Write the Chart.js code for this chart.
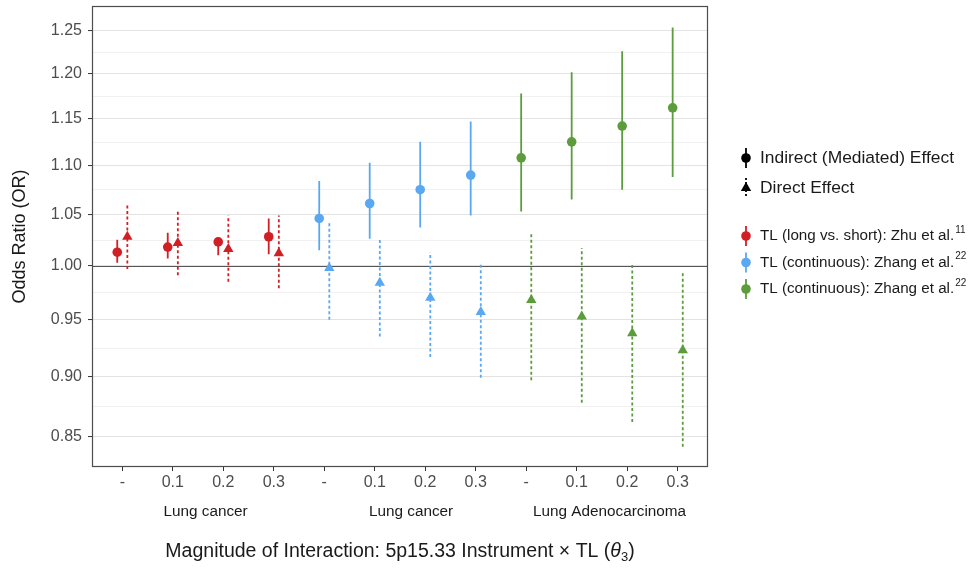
<!DOCTYPE html>
<html>
<head>
<meta charset="utf-8">
<script src="https://cdn.jsdelivr.net/npm/chart.js@4.4.1/dist/chart.umd.min.js"></script>
<style>
  html, body { margin: 0; padding: 0; background: #ffffff; }
  #wrap { width: 971px; height: 570px; }
</style>
</head>
<body>
<div id="wrap"><canvas id="orChart" width="971" height="570"></canvas></div>
<script>
/********************************************
 * Data                 *
 ********************************************/
const tickLabels = ['-', '0.1', '0.2', '0.3', '-', '0.1', '0.2', '0.3', '-', '0.1', '0.2', '0.3'];
const groupLabels = ['Lung cancer', 'Lung cancer', 'Lung Adenocarcinoma'];
const groupCentres = [1.65, 5.72, 9.65];

const studyLabels = ['TL (long vs. short): Zhu et al.', 'TL (continuous): Zhang et al.', 'TL (continuous): Zhang et al.'];
const studyRefs = ['11', '22', '22'];
const studyColors = ['#d11f26', '#5ba8f2', '#5c9c3c'];

// indirect (mediated) effect: point estimate and interval
const indirectOR   = [1.013, 1.018, 1.023, 1.028, 1.046, 1.061, 1.075, 1.090, 1.108, 1.125, 1.142, 1.162];
const indirectLow  = [1.003, 1.007, 1.010, 1.011, 1.015, 1.026, 1.037, 1.049, 1.053, 1.065, 1.075, 1.088];
const indirectHigh = [1.025, 1.032, 1.027, 1.046, 1.084, 1.103, 1.125, 1.147, 1.178, 1.202, 1.226, 1.254];

// direct effect
const directOR   = [1.028, 1.022, 1.016, 1.012, 0.998, 0.984, 0.970, 0.957, 0.968, 0.953, 0.938, 0.923];
const directLow  = [0.997, 0.991, 0.985, 0.979, 0.950, 0.935, 0.917, 0.899, 0.897, 0.878, 0.862, 0.842];
const directHigh = [1.061, 1.055, 1.049, 1.049, 1.042, 1.026, 1.013, 1.001, 1.031, 1.017, 1.003, 0.993];

const majorTicks = [0.85, 0.90, 0.95, 1.00, 1.05, 1.10, 1.15, 1.20, 1.25];

/********************************************
 * Helpers                                   *
 ********************************************/
const FONT = "'Liberation Sans', Arial, Helvetica, sans-serif";
const dodge = 0.1;

const minorTicks = [];
for (let i = 0; i < majorTicks.length - 1; i++) {
  minorTicks.push(Math.sqrt(majorTicks[i] * majorTicks[i + 1]));
}
const majorSet = new Set(majorTicks.map(v => v.toFixed(3)));
const isMajor = v => majorSet.has(Number(v).toFixed(3));

function idxFor(study) {
  return [0, 1, 2, 3].map(k => study * 4 + k);
}

// vertical interval segments, broken with null gaps
function intervals(idx, off, lo, hi) {
  const pts = [];
  idx.forEach(i => {
    pts.push({x: i + off, y: lo[i]}, {x: i + off, y: hi[i]}, {x: i + off, y: null});
  });
  return pts;
}

const datasets = [];
studyColors.forEach((col, s) => {
  const idx = idxFor(s);
  datasets.push({
    data: idx.map(i => ({x: i - dodge, y: indirectOR[i]})),
    pointStyle: 'circle', pointRadius: 4.8, backgroundColor: col, borderWidth: 0,
    showLine: false, order: 0
  });
  datasets.push({
    data: idx.map(i => ({x: i + dodge, y: directOR[i]})),
    pointStyle: 'triangle', pointRadius: 6, backgroundColor: col, borderWidth: 0,
    showLine: false, order: 0
  });
  datasets.push({
    data: intervals(idx, -dodge, indirectLow, indirectHigh),
    showLine: true, spanGaps: false, borderColor: col, borderWidth: 1.8, pointRadius: 0, order: 1
  });
  datasets.push({
    data: intervals(idx, dodge, directLow, directHigh),
    showLine: true, spanGaps: false, borderColor: col, borderWidth: 1.8, borderDash: [3, 2.5],
    pointRadius: 0, order: 1
  });
});

/********************************************
 * Panel border, reference line, labels, legend
 ********************************************/
const decorPlugin = {
  id: 'decor',
  beforeDatasetsDraw(chart) {
    const {ctx, chartArea: a, scales: {y}} = chart;
    const py = Math.round(y.getPixelForValue(1)) + 0.5;
    ctx.save();
    ctx.strokeStyle = '#555555';
    ctx.lineWidth = 1.2;
    ctx.beginPath();
    ctx.moveTo(a.left, py);
    ctx.lineTo(a.right, py);
    ctx.stroke();
    ctx.restore();
  },
  afterDraw(chart) {
    const {ctx, chartArea: a, scales: {x}} = chart;
    ctx.save();

    // panel border
    ctx.strokeStyle = '#4d4d4d';
    ctx.lineWidth = 1.2;
    ctx.strokeRect(a.left + 0.5, a.top + 0.5, a.right - a.left - 1, a.bottom - a.top - 1);

    // outcome labels under the ticks
    ctx.fillStyle = '#1a1a1a';
    ctx.font = '15.3px ' + FONT;
    ctx.textAlign = 'center';
    ctx.textBaseline = 'middle';
    groupLabels.forEach((g, i) => {
      ctx.fillText(g, x.getPixelForValue(groupCentres[i]), 512);
    });

    // x title with italic theta and subscript 3
    const main = 'Magnitude of Interaction: 5p15.33 Instrument \u00d7 TL (';
    const fMain = '19.5px ' + FONT;
    const fTheta = 'italic 19.5px ' + FONT;
    const fSub = '13px ' + FONT;
    ctx.font = fMain;  const w1 = ctx.measureText(main).width;  const w4 = ctx.measureText(')').width;
    ctx.font = fTheta; const w2 = ctx.measureText('\u03b8').width;
    ctx.font = fSub;   const w3 = ctx.measureText('3').width;
    let tx = (a.left + a.right) / 2 - (w1 + w2 + w3 + w4) / 2;
    const ty = 552;
    ctx.textAlign = 'left';
    ctx.font = fMain;  ctx.fillText(main, tx, ty); tx += w1;
    ctx.font = fTheta; ctx.fillText('\u03b8', tx, ty); tx += w2;
    ctx.font = fSub;   ctx.fillText('3', tx, ty + 5); tx += w3;
    ctx.font = fMain;  ctx.fillText(')', tx, ty);

    // legend
    const kx = a.right + 38;
    const lx = a.right + 52;
    const drawKey = (style, col, cy, dash, r) => {
      ctx.strokeStyle = col;
      ctx.fillStyle = col;
      ctx.lineWidth = 1.8;
      ctx.setLineDash(dash);
      ctx.beginPath();
      ctx.moveTo(kx, cy - 10);
      ctx.lineTo(kx, cy + 10);
      ctx.stroke();
      ctx.setLineDash([]);
      Chart.helpers.drawPoint(ctx, {pointStyle: style, radius: r, rotation: 0, borderWidth: 0}, kx, cy);
    };
    ctx.textBaseline = 'middle';
    ctx.textAlign = 'left';

    drawKey('circle', '#000000', 158, [], 4.8);
    drawKey('triangle', '#000000', 188, [2, 2], 6);
    ctx.fillStyle = '#1a1a1a';
    ctx.font = '17.4px ' + FONT;
    ctx.fillText('Indirect (Mediated) Effect', lx, 158);
    ctx.fillText('Direct Effect', lx, 188);

    studyLabels.forEach((lab, s) => {
      const cy = 236 + s * 26.5;
      drawKey('circle', studyColors[s], cy, [], 4.8);
      ctx.fillStyle = '#1a1a1a';
      ctx.font = '15.2px ' + FONT;
      ctx.fillText(lab, lx, cy);
      const w = ctx.measureText(lab).width;
      ctx.font = '10px ' + FONT;
      ctx.fillText(studyRefs[s], lx + w + 1, cy - 6);
    });

    ctx.restore();
  }
};

/********************************************
 * Chart                                     *
 ********************************************/
new Chart(document.getElementById('orChart'), {
  type: 'scatter',
  data: { datasets: datasets },
  plugins: [decorPlugin],
  options: {
    responsive: false,
    animation: false,
    devicePixelRatio: 1,
    layout: { padding: { left: 0, right: 263, top: 5, bottom: 0 } },
    plugins: { legend: { display: false }, tooltip: { enabled: false } },
    scales: {
      x: {
        type: 'linear',
        min: -0.6,
        max: 11.6,
        afterBuildTicks: scale => { scale.ticks = tickLabels.map((_, i) => ({value: i})); },
        afterFit: scale => {
          scale.height = 103;
          scale.paddingLeft = 0;
          scale.paddingRight = 0;
        },
        border: { display: false },
        grid: { drawOnChartArea: false, drawTicks: true, tickLength: 4, tickColor: '#333333', tickWidth: 1 },
        ticks: {
          autoSkip: false, maxRotation: 0, padding: 2,
          color: '#4d4d4d', font: { family: FONT, size: 16 },
          callback: v => tickLabels[Math.round(v)]
        }
      },
      y: {
        type: 'logarithmic',
        min: 0.826,
        max: 1.28,
        afterBuildTicks: scale => {
          scale.ticks = majorTicks.concat(minorTicks).sort((p, q) => p - q).map(v => ({value: v}));
        },
        afterFit: scale => {
          scale.width = 92;
          scale.paddingTop = 0;
          scale.paddingBottom = 0;
        },
        border: { display: false },
        grid: {
          color: c => isMajor(c.tick.value) ? '#e3e3e3' : '#ededed',
          lineWidth: c => isMajor(c.tick.value) ? 1.1 : 0.8,
          tickColor: c => isMajor(c.tick.value) ? '#333333' : 'rgba(0,0,0,0)',
          tickLength: 4,
          tickWidth: 1
        },
        ticks: {
          autoSkip: false, padding: 6,
          color: '#4d4d4d', font: { family: FONT, size: 16 },
          callback: v => isMajor(v) ? Number(v).toFixed(2) : ''
        },
        title: {
          display: true, text: 'Odds Ratio (OR)', color: '#1a1a1a',
          font: { family: FONT, size: 18 }, padding: { top: 9, bottom: 0 }
        }
      }
    }
  }
});
</script>
</body>
</html>
